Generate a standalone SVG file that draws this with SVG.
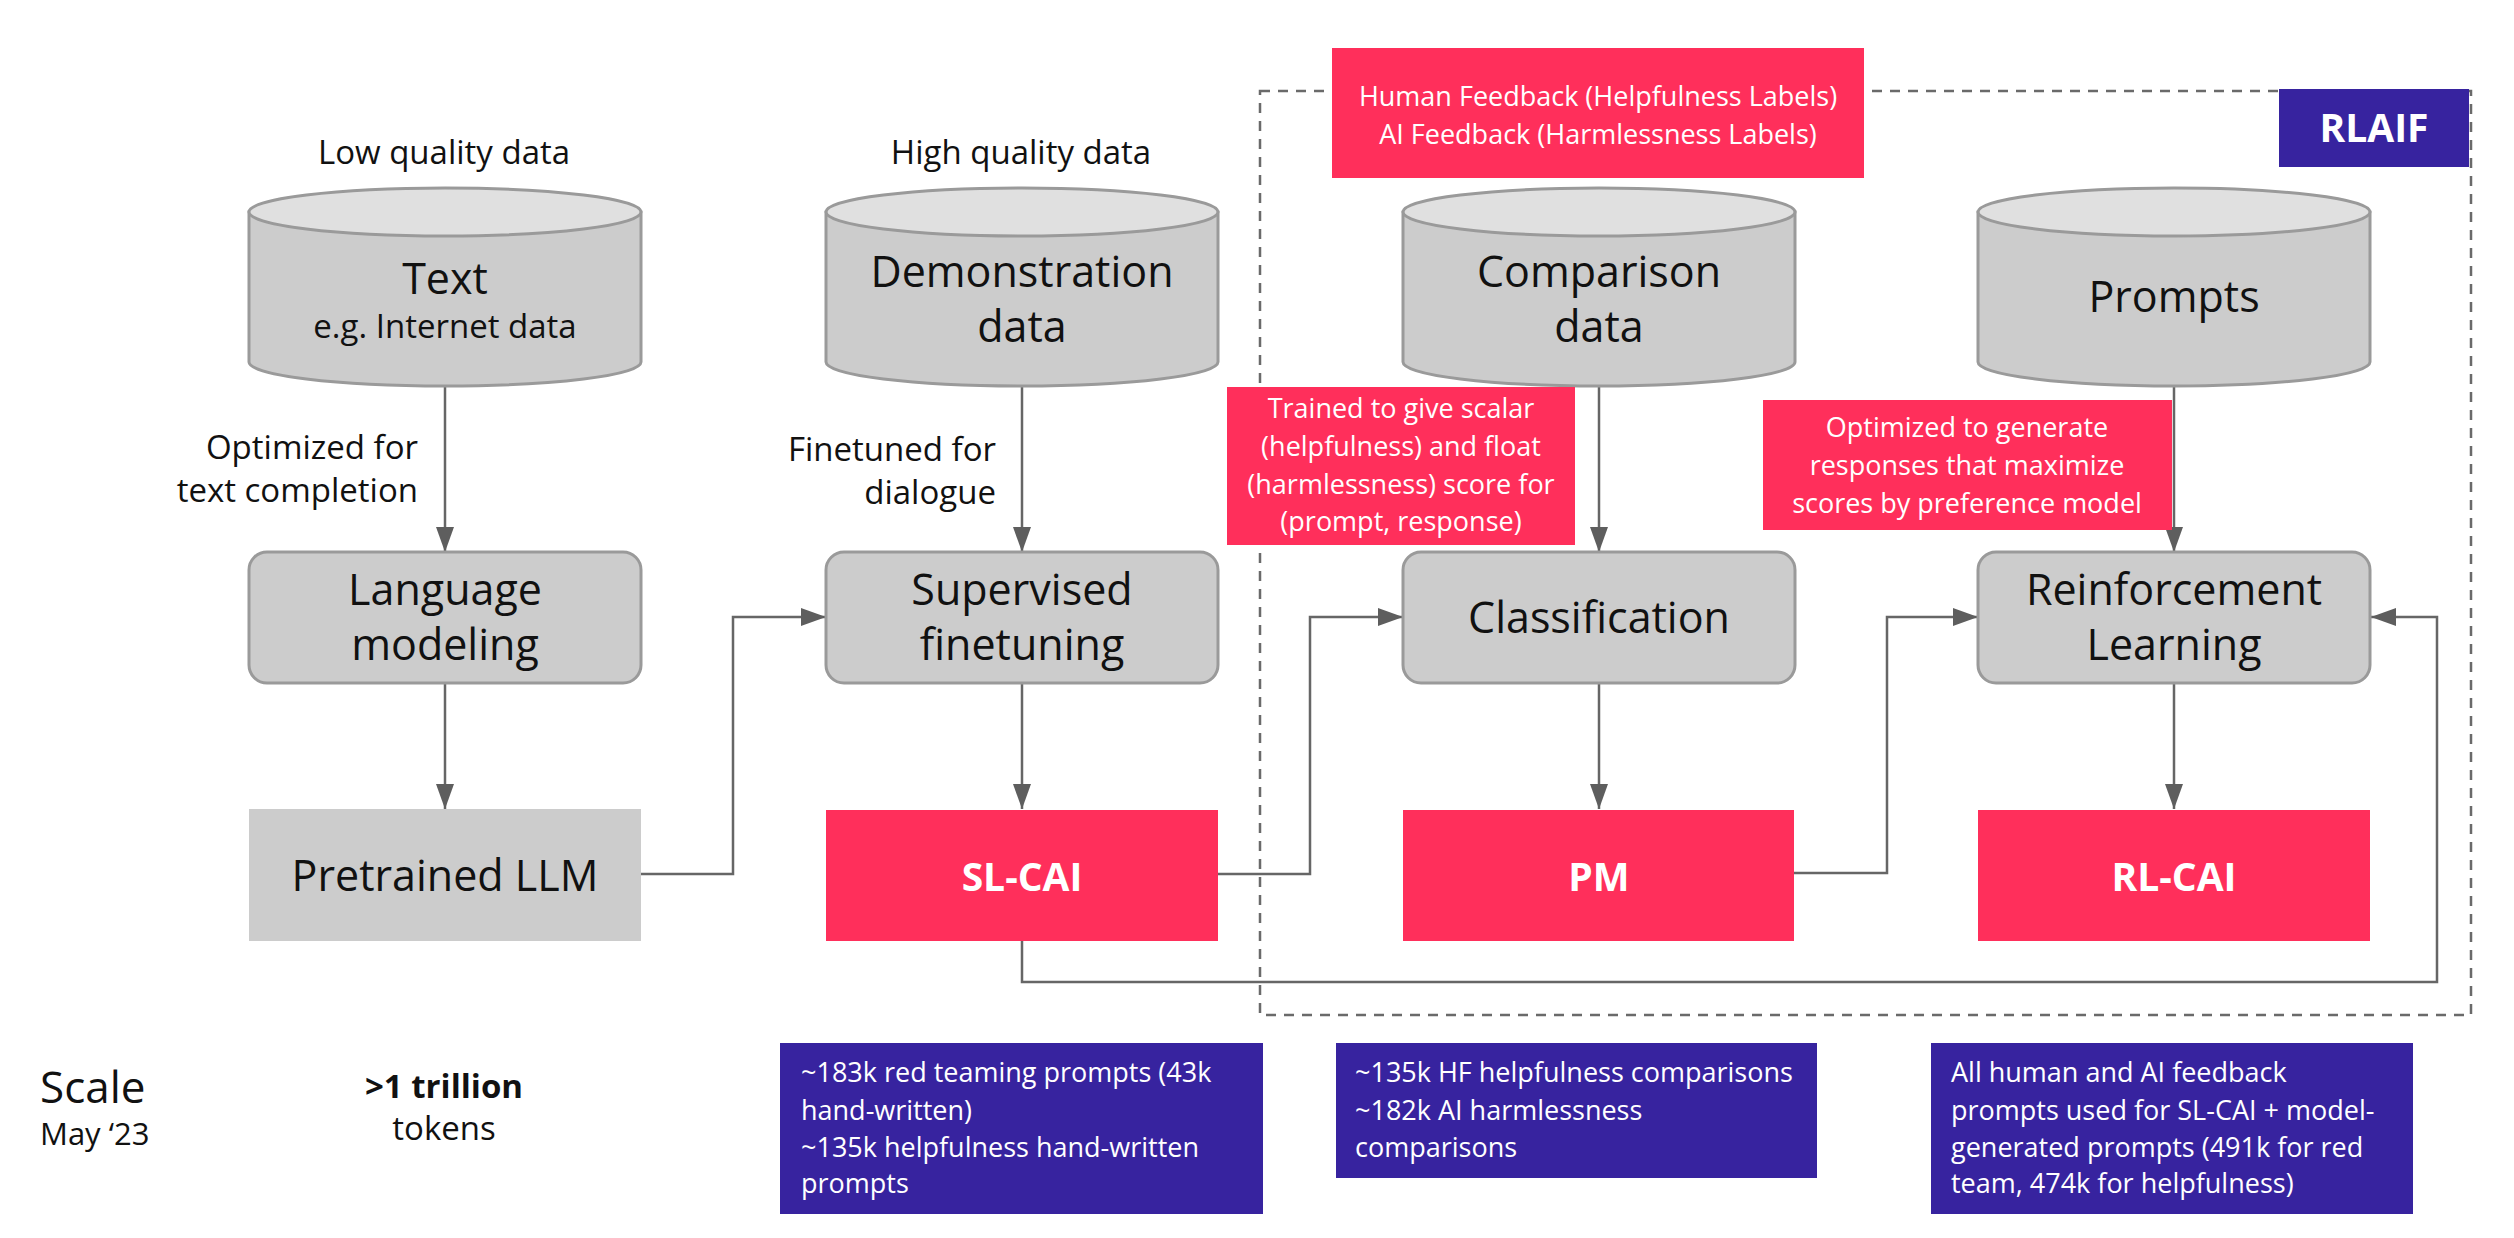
<svg xmlns="http://www.w3.org/2000/svg" width="2514" height="1238" viewBox="0 0 2514 1238">
<defs>
<style>
.cyl{fill:#cccccc;stroke:#9a9a9a;stroke-width:3}
.cyltop{fill:#e0e0e0;stroke:#9a9a9a;stroke-width:3}
.proc{fill:#cccccc;stroke:#9a9a9a;stroke-width:3}
.grey{fill:#cccccc}
.red{fill:#ff2f5b}
.purple{fill:#37239f}
.big{font-family:"Open Sans","Noto Sans",sans-serif;font-size:43px;fill:#111;text-anchor:middle}
.lbl{font-family:"Open Sans","Noto Sans",sans-serif;font-size:33px;fill:#111}
.note{font-family:"Open Sans","Noto Sans",sans-serif;font-size:27px;fill:#ffffff}
.bold{font-family:"Open Sans","Noto Sans",sans-serif;font-size:39px;font-weight:bold;fill:#ffffff;text-anchor:middle}
.conn{fill:none;stroke:#666666;stroke-width:2.5}
.mid{text-anchor:middle}
.end{text-anchor:end}
</style>
<marker id="arr" markerUnits="userSpaceOnUse" markerWidth="26" markerHeight="18" refX="25" refY="9" orient="auto">
<path d="M0,0 L25,9 L0,18 Z" fill="#5e5e5e"/>
</marker>
</defs>
<rect width="2514" height="1238" fill="#ffffff"/>

<g id="rlaif-region">
<rect x="1260" y="91" width="1211" height="924" fill="none" stroke="#6a6a6a" stroke-width="2.5" stroke-dasharray="10 8"/>
</g>

<g id="connectors">
<path class="conn" d="M445,386 L445,552" marker-end="url(#arr)"/>
<path class="conn" d="M1022,386 L1022,552" marker-end="url(#arr)"/>
<path class="conn" d="M1599,386 L1599,552" marker-end="url(#arr)"/>
<path class="conn" d="M2174,386 L2174,552" marker-end="url(#arr)"/>
<path class="conn" d="M445,683 L445,809" marker-end="url(#arr)"/>
<path class="conn" d="M1022,683 L1022,809" marker-end="url(#arr)"/>
<path class="conn" d="M1599,683 L1599,809" marker-end="url(#arr)"/>
<path class="conn" d="M2174,683 L2174,809" marker-end="url(#arr)"/>
<path class="conn" d="M641,874 L733,874 L733,617 L826,617" marker-end="url(#arr)"/>
<path class="conn" d="M1218,874 L1310,874 L1310,617 L1403,617" marker-end="url(#arr)"/>
<path class="conn" d="M1794,873 L1887,873 L1887,617 L1978,617" marker-end="url(#arr)"/>
<path class="conn" d="M1022,941 L1022,982 L2437,982 L2437,617 L2371,617" marker-end="url(#arr)"/>
</g>

<g id="label-low">
<text class="lbl mid" x="444" y="164">Low quality data</text>
</g>
<g id="label-high">
<text class="lbl mid" x="1021" y="164">High quality data</text>
</g>

<g id="text-data">
<path class="cyl" d="M249,212 L249,362 A196,24 0 0 0 641,362 L641,212 Z"/>
<ellipse class="cyltop" cx="445" cy="212" rx="196" ry="24"/>
<text class="big" x="445" y="294">Text</text>
<text class="lbl mid" x="445" y="338">e.g. Internet data</text>
</g>

<g id="demonstration-data">
<path class="cyl" d="M826,212 L826,362 A196,24 0 0 0 1218,362 L1218,212 Z"/>
<ellipse class="cyltop" cx="1022" cy="212" rx="196" ry="24"/>
<text class="big" x="1022" y="287">Demonstration</text>
<text class="big" x="1022" y="342">data</text>
</g>

<g id="comparison-data">
<path class="cyl" d="M1403,212 L1403,362 A196,24 0 0 0 1795,362 L1795,212 Z"/>
<ellipse class="cyltop" cx="1599" cy="212" rx="196" ry="24"/>
<text class="big" x="1599" y="287">Comparison</text>
<text class="big" x="1599" y="342">data</text>
</g>

<g id="prompts">
<path class="cyl" d="M1978,212 L1978,362 A196,24 0 0 0 2370,362 L2370,212 Z"/>
<ellipse class="cyltop" cx="2174" cy="212" rx="196" ry="24"/>
<text class="big" x="2174" y="312">Prompts</text>
</g>

<g id="feedback-labels">
<rect class="red" x="1332" y="48" width="532" height="130"/>
<text class="note mid" x="1598" y="106">Human Feedback (Helpfulness Labels)</text>
<text class="note mid" x="1598" y="144">AI Feedback (Harmlessness Labels)</text>
</g>

<g id="rlaif-tag">
<rect class="purple" x="2279" y="89" width="190" height="78"/>
<text class="bold" x="2374" y="142">RLAIF</text>
</g>

<g id="label-optimized">
<text class="lbl end" x="418" y="459">Optimized for</text>
<text class="lbl end" x="418" y="502">text completion</text>
</g>
<g id="label-finetuned">
<text class="lbl end" x="996" y="461">Finetuned for</text>
<text class="lbl end" x="996" y="504">dialogue</text>
</g>

<g id="note-trained">
<rect class="red" x="1227" y="387" width="348" height="158"/>
<text class="note mid" x="1401" y="418">Trained to give scalar</text>
<text class="note mid" x="1401" y="456">(helpfulness) and float</text>
<text class="note mid" x="1401" y="494">(harmlessness) score for</text>
<text class="note mid" x="1401" y="531">(prompt, response)</text>
</g>

<g id="note-optimized">
<rect class="red" x="1763" y="400" width="409" height="130"/>
<text class="note mid" x="1967" y="437">Optimized to generate</text>
<text class="note mid" x="1967" y="475">responses that maximize</text>
<text class="note mid" x="1967" y="513">scores by preference model</text>
</g>

<g id="language-modeling">
<rect class="proc" x="249" y="552" width="392" height="131" rx="18"/>
<text class="big" x="445" y="605">Language</text>
<text class="big" x="445" y="660">modeling</text>
</g>

<g id="supervised-finetuning">
<rect class="proc" x="826" y="552" width="392" height="131" rx="18"/>
<text class="big" x="1022" y="605">Supervised</text>
<text class="big" x="1022" y="660">finetuning</text>
</g>

<g id="classification">
<rect class="proc" x="1403" y="552" width="392" height="131" rx="18"/>
<text class="big" x="1599" y="633">Classification</text>
</g>

<g id="reinforcement-learning">
<rect class="proc" x="1978" y="552" width="392" height="131" rx="18"/>
<text class="big" x="2174" y="605">Reinforcement</text>
<text class="big" x="2174" y="660">Learning</text>
</g>

<g id="pretrained-llm">
<rect class="grey" x="249" y="809" width="392" height="132"/>
<text class="big" x="445" y="891">Pretrained LLM</text>
</g>

<g id="sl-cai">
<rect class="red" x="826" y="810" width="392" height="131"/>
<text class="bold" x="1022" y="891">SL-CAI</text>
</g>

<g id="pm">
<rect class="red" x="1403" y="810" width="391" height="131"/>
<text class="bold" x="1599" y="891">PM</text>
</g>

<g id="rl-cai">
<rect class="red" x="1978" y="810" width="392" height="131"/>
<text class="bold" x="2174" y="891">RL-CAI</text>
</g>

<g id="scale">
<text class="lbl" x="40" y="1103" style="font-size:44px">Scale</text>
<text class="lbl" x="40" y="1145" style="font-size:31px">May ‘23</text>
</g>

<g id="scale-lm">
<text class="lbl mid" x="444" y="1098" style="font-weight:bold">&gt;1 trillion</text>
<text class="lbl mid" x="444" y="1140">tokens</text>
</g>

<g id="scale-sl">
<rect class="purple" x="780" y="1043" width="483" height="171"/>
<text class="note" x="801" y="1082">~183k red teaming prompts (43k</text>
<text class="note" x="801" y="1120">hand-written)</text>
<text class="note" x="801" y="1157">~135k helpfulness hand-written</text>
<text class="note" x="801" y="1193">prompts</text>
</g>

<g id="scale-pm">
<rect class="purple" x="1336" y="1043" width="481" height="135"/>
<text class="note" x="1355" y="1082">~135k HF helpfulness comparisons</text>
<text class="note" x="1355" y="1120">~182k AI harmlessness</text>
<text class="note" x="1355" y="1157">comparisons</text>
</g>

<g id="scale-rl">
<rect class="purple" x="1931" y="1043" width="482" height="171"/>
<text class="note" x="1951" y="1082">All human and AI feedback</text>
<text class="note" x="1951" y="1120">prompts used for SL-CAI + model-</text>
<text class="note" x="1951" y="1157">generated prompts (491k for red</text>
<text class="note" x="1951" y="1193">team, 474k for helpfulness)</text>
</g>
</svg>
